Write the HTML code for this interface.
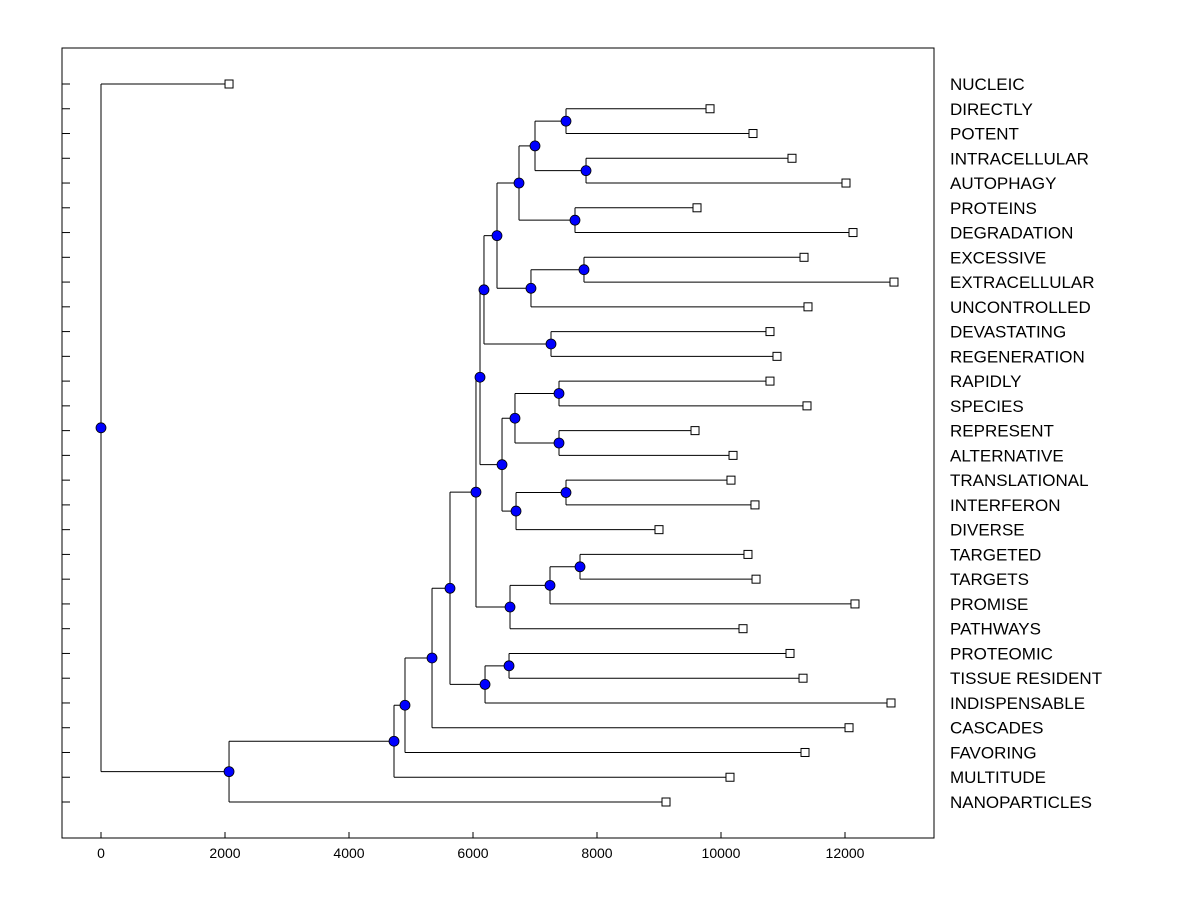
<!DOCTYPE html>
<html><head><meta charset="utf-8"><style>
html,body{margin:0;padding:0;background:#fff;}
svg{display:block;font-family:"Liberation Sans",Arial,sans-serif;}
</style></head><body>
<svg id="chart" width="1200" height="900" viewBox="0 0 1200 900">
<rect x="62" y="48" width="872" height="790" fill="none" stroke="#000" stroke-width="1"/>
<g id="g-ticks"></g>
<g id="g-lines"></g>
<g id="g-marks"></g>
<g id="g-labels"></g>
</svg>
<script>
const leafLabels = ["NUCLEIC","DIRECTLY","POTENT","INTRACELLULAR","AUTOPHAGY","PROTEINS","DEGRADATION","EXCESSIVE","EXTRACELLULAR","UNCONTROLLED","DEVASTATING","REGENERATION","RAPIDLY","SPECIES","REPRESENT","ALTERNATIVE","TRANSLATIONAL","INTERFERON","DIVERSE","TARGETED","TARGETS","PROMISE","PATHWAYS","PROTEOMIC","TISSUE RESIDENT","INDISPENSABLE","CASCADES","FAVORING","MULTITUDE","NANOPARTICLES"];
const leafValues = [2065,9823,10516,11145,12016,9613,12129,11339,12790,11403,10790,10903,10790,11387,9581,10194,10161,10548,9000,10435,10565,12161,10355,11113,11323,12742,12065,11355,10145,9113];
const mergeLeft  = [1,3,30,5,32,7,35,34,10,37,12,14,40,16,43,42,39,19,47,48,46,23,51,50,53,54,55,56,0];
const mergeRight = [2,4,31,6,33,8,9,36,11,38,13,15,41,17,18,44,45,20,21,22,49,24,25,52,26,27,28,29,57];
const mergeValues = [7500,7823,7000,7645,6742,7790,6935,6387,7258,6177,7387,7387,6677,7500,6694,6468,6113,7726,7242,6597,6048,6581,6194,5629,5339,4903,4726,2065,0];
const xTicks = [0,2000,4000,6000,8000,10000,12000];

const NS="http://www.w3.org/2000/svg";
const xs = v => 101 + v*0.062;
const ys = i => 84 + i*(802-84)/29;
function mk(tag, attrs, parent){const e=document.createElementNS(NS,tag);for(const k in attrs)e.setAttribute(k,attrs[k]);parent.appendChild(e);return e;}
const gT=document.getElementById('g-ticks'),gL=document.getElementById('g-lines'),gM=document.getElementById('g-marks'),gLab=document.getElementById('g-labels');

xTicks.forEach(t=>{
  const l=mk('line',{x1:xs(t),x2:xs(t),y1:838,y2:832,stroke:'#000'},gT);
  
  
  const tx=mk('text',{x:xs(t),y:858,'text-anchor':'middle','font-size':14},gT);
  tx.textContent=t;
  
  
});
leafLabels.forEach((lab,i)=>{
  const l=mk('line',{x1:62,x2:70,y1:ys(i),y2:ys(i),stroke:'#000'},gT);
  
  
  const tx=mk('text',{x:950,y:ys(i)+6,'font-size':17},gLab);
  tx.textContent=lab;
  
  
});
const nx=[],ny=[];
leafValues.forEach((v,i)=>{nx[i]=xs(v);ny[i]=ys(i);});
const n=leafValues.length;
mergeValues.forEach((v,k)=>{
  const a=mergeLeft[k],b=mergeRight[k],id=n+k,px=xs(v);
  nx[id]=px;ny[id]=(ny[a]+ny[b])/2;
  const vl=mk('line',{x1:px,x2:px,y1:ny[a],y2:ny[b],stroke:'#000'},gL);
  
  
  [a,b].forEach(c=>{
    const hl=mk('line',{x1:px,x2:nx[c],y1:ny[c],y2:ny[c],stroke:'#000'},gL);
    
    
  });
});
leafValues.forEach((v,i)=>{
  const r=mk('rect',{x:nx[i]-4,y:ny[i]-4,width:8,height:8,fill:'#fff',stroke:'#000'},gM);
  
  
});
mergeValues.forEach((v,k)=>{
  const id=n+k;
  const c=mk('circle',{cx:nx[id],cy:ny[id],r:5,fill:'#0000ff',stroke:'#000','stroke-width':0.8},gM);
  
  
});
</script>
</body></html>
